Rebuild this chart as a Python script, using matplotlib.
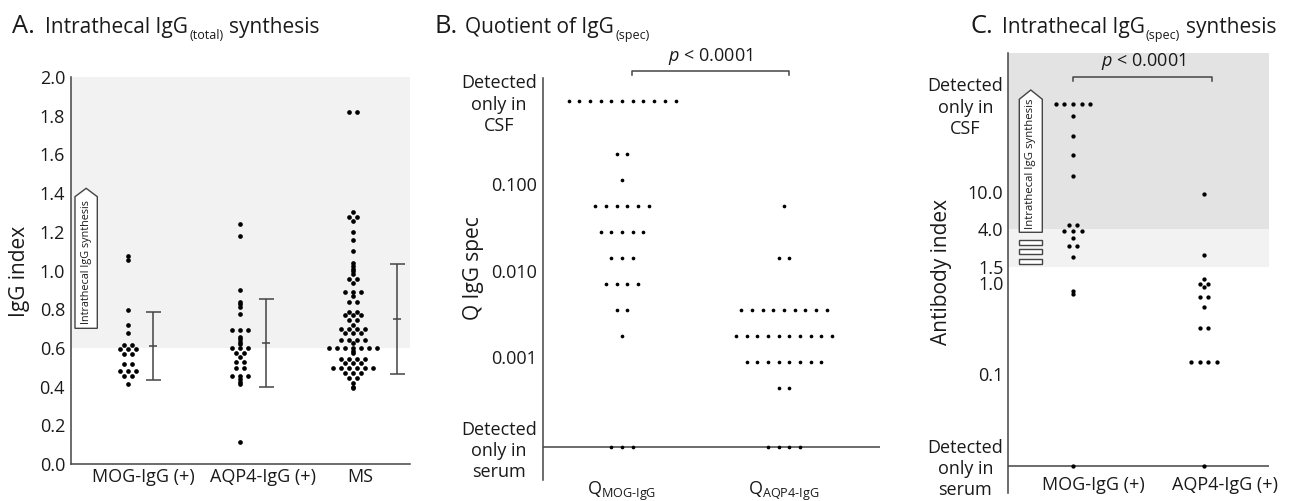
import numpy as np
import matplotlib
matplotlib.use("Agg")
import matplotlib.pyplot as plt
from matplotlib.patches import Polygon, Rectangle
from matplotlib import transforms
from matplotlib.ticker import NullLocator

plt.rcParams['font.family'] = ['Open Sans', 'DejaVu Sans']
plt.rcParams['mathtext.fontset'] = 'custom'
plt.rcParams['mathtext.rm'] = 'Open Sans'
plt.rcParams['mathtext.it'] = 'Open Sans:italic'

# ---- data ----------------------------------------------------------------
# A: IgG index per patient
groups_a = ["MOG-IgG (+)", "AQP4-IgG (+)", "MS"]
igg_mog = [1.077, 1.054, 0.796, 0.717, 0.675, 0.615, 0.615, 0.593, 0.593, 0.593,
           0.568, 0.568, 0.517, 0.517, 0.481, 0.481, 0.481, 0.456, 0.456, 0.413]
igg_aqp4 = [1.239, 1.180, 0.899, 0.839, 0.825, 0.813, 0.775, 0.692, 0.692, 0.692,
            0.658, 0.644, 0.632, 0.619, 0.598, 0.598, 0.598, 0.572, 0.572, 0.555,
            0.529, 0.529, 0.494, 0.494, 0.456, 0.456, 0.456, 0.439, 0.425, 0.412, 0.112]
igg_ms = ([1.817, 1.817, 1.30, 1.278, 1.278, 1.256, 1.197, 1.158, 1.10,
           1.037, 1.023, 1.009, 0.996, 0.982, 0.955, 0.955, 0.937,
           0.891, 0.891, 0.891, 0.87, 0.839, 0.839, 0.787, 0.787,
           0.770, 0.770, 0.770, 0.744, 0.744, 0.718]
          + [0.696] * 4 + [0.679] * 3 + [0.641] * 4 + [0.624]
          + [0.598] * 7 + [0.585, 0.572] + [0.541] * 4 + [0.520] * 3
          + [0.494] * 6 + [0.472] * 3 + [0.443] * 2 + [0.417, 0.40, 0.391])
igg_mean = [0.61, 0.625, 0.748]
igg_sd = [0.177, 0.227, 0.284]

# B: quotient of specific IgG (two-fold dilution levels) and counts per level
q_groups = [r"Q$_{\mathrm{MOG}\text{-}\mathrm{IgG}}$", r"Q$_{\mathrm{AQP4}\text{-}\mathrm{IgG}}$"]
q_levels = ["CSF", 0.224, 0.112, 0.056, 0.028, 0.014, 0.007, 0.0035, 0.00175,
            0.000875, 0.00044, "serum"]
q_mog_counts = [11, 2, 1, 6, 5, 3, 4, 2, 1, 0, 0, 3]
q_aqp4_counts = [0, 0, 0, 1, 0, 2, 0, 9, 10, 8, 2, 4]
q_ticks = ["CSF", 0.1, 0.01, 0.001, "serum"]
q_ticklabels = ["Detected\nonly in\nCSF", "0.100", "0.010", "0.001", "Detected\nonly in\nserum"]

# C: antibody index
ai_groups = ["MOG-IgG (+)", "AQP4-IgG (+)"]
ai_mog = ["CSF"] * 5 + [69.9, 42.4, 26.1, 15.1, 4.34, 4.34, 3.76, 3.76, 3.76, 3.15,
                        2.59, 2.59, 1.96, 0.818, 0.752, "serum"]
ai_aqp4 = [9.55, 2.04, 1.11, 0.98, 0.98, 0.899, 0.70, 0.70, 0.549, 0.317, 0.317,
           0.135, 0.135, 0.135, 0.135, "serum"]
ai_ticks = ["CSF", 10.0, 4.0, 1.5, 1.0, 0.1, "serum"]
ai_ticklabels = ["Detected\nonly in\nCSF", "10.0", "4.0", "1.5", "1.0", "0.1",
                 "Detected\nonly in\nserum"]

# ---- style ---------------------------------------------------------------
W, H = 1291, 501
TXT = '#1a1a1a'
LINE = '#444444'
fig = plt.figure(figsize=(W / 100, H / 100), dpi=100)


def axes_px(left, top, right, bottom):
    return fig.add_axes([left / W, 1 - bottom / H, (right - left) / W, (bottom - top) / H])


def px_per_unit_x(ax):
    a = ax.transData.transform((0, 1))
    b = ax.transData.transform((1, 1))
    return b[0] - a[0]


def row_offsets(vals, spacing_px, ppx):
    # equal values sit side by side, centred on the group position
    off = np.zeros(len(vals))
    seen = {}
    for i, v in enumerate(vals):
        seen.setdefault(v, []).append(i)
    for idx in seen.values():
        n = len(idx)
        for k, i in enumerate(idx):
            off[i] = (k - (n - 1) / 2) * spacing_px / ppx
    return off


def clean(ax, bottom=True):
    for s in ['top', 'right']:
        ax.spines[s].set_visible(False)
    ax.spines['bottom'].set_visible(bottom)
    for s in ['left', 'bottom']:
        ax.spines[s].set_color(LINE)
        ax.spines[s].set_linewidth(1.1)
    ax.tick_params(length=0, labelsize=13, labelcolor=TXT)
    ax.tick_params(which='minor', length=0)
    ax.patch.set_visible(False)


def title(x_letter, x_text, letter, main, sub, tail=None):
    r = fig.canvas.get_renderer()
    base = 1 - 33.3 / H
    fig.text(x_letter / W, base, letter, fontsize=18.4, color=TXT, va='baseline')
    t = fig.text(x_text / W, base, main, fontsize=15, color=TXT, va='baseline')
    x = x_text + t.get_window_extent(r).width + 1.3
    s = fig.text(x / W, 1 - 38.7 / H, sub, fontsize=9, color=TXT, va='baseline')
    if tail:
        x += s.get_window_extent(r).width + 6
        fig.text(x / W, base, tail, fontsize=15, color=TXT, va='baseline')


def arrow_box(ax, x0, x1, ybot, yshoulder, ytip, ytext, size):
    xc = (x0 + x1) / 2
    ax.add_patch(Polygon([(x0, ybot), (x1, ybot), (x1, yshoulder), (xc, ytip), (x0, yshoulder)],
                         closed=True, transform=ax.transAxes, fc='white', ec=LINE,
                         lw=1.0, zorder=2, clip_on=False))
    ax.text(xc, ytext, "Intrathecal IgG synthesis", transform=ax.transAxes, rotation=90,
            ha='center', va='center', fontsize=size, color=TXT, zorder=3)


def bracket(ax, x0, x1, y, drop, label_x, label_y):
    tr = transforms.blended_transform_factory(ax.transData, ax.transAxes)
    ax.plot([x0, x0, x1, x1], [y - drop, y, y, y - drop], color=LINE, lw=1.1,
            transform=tr, clip_on=False)
    ax.text(label_x, label_y, r"$\mathit{p}$ < 0.0001", transform=tr, ha='center',
            va='bottom', fontsize=13, color=TXT)


# ---- A. IgG index --------------------------------------------------------
axA = axes_px(71, 77, 410, 464)
axA.set_xlim(-0.504, 2.507)
axA.set_ylim(0, 2.0)
axA.axhspan(0.6, 2.0, color='#f2f2f2', lw=0, zorder=0)
ppx = px_per_unit_x(axA)
for i, vals in enumerate([igg_mog, igg_aqp4, igg_ms]):
    axA.scatter(i + row_offsets(vals, 8.0, ppx), vals, s=11.4, c='k', lw=0, zorder=3)
errbar_x = [0.222, 1.231, 2.391]
axA.errorbar(errbar_x, igg_mean, yerr=igg_sd, fmt='none', ecolor=LINE,
             elinewidth=1.1, capsize=5.4, capthick=1.1, zorder=2)
axA.plot(errbar_x, igg_mean, ls='none', marker='_', ms=5.3, mew=1.1, color=LINE, zorder=2)
yt = np.round(np.arange(0, 2.01, 0.2), 1)
axA.set_yticks(yt, ["%.1f" % v for v in yt])
axA.set_xticks([0.136, 1.198, 2.062], groups_a)
clean(axA)
axA.tick_params(axis='y', pad=4.3)
axA.tick_params(axis='x', pad=3)
arrow_box(axA, 0.0118, 0.0776, 0.3506, 0.6907, 0.7124, 0.5207, 7.8)
fig.text(20 / W, 1 - 271 / H, "IgG index", rotation=90, ha='center', va='center',
         fontsize=15, color=TXT)

# ---- B. Quotient of IgG(spec) -------------------------------------------
q_pos = {"CSF": 0.918, "serum": 9.18e-5}
axB = axes_px(543.3, 77.7, 880, 480)
axB.set_yscale('log')
axB.set_ylim(3.82e-5, 1.706)
axB.set_xlim(-0.486, 1.593)
axB.axhline(q_pos["serum"], color=LINE, lw=1.1, zorder=1)
ppx = px_per_unit_x(axB)
for i, counts in enumerate([q_mog_counts, q_aqp4_counts]):
    vals = [q_pos.get(lv, lv) for lv, n in zip(q_levels, counts) for _ in range(n)]
    axB.scatter(i + row_offsets(vals, 10.7, ppx), vals, s=7, c='k', lw=0, zorder=3)
axB.yaxis.set_minor_locator(NullLocator())
axB.set_yticks([q_pos.get(t, t) for t in q_ticks], q_ticklabels)
axB.set_xticks([0, 1], q_groups)
clean(axB, bottom=False)
axB.tick_params(axis='y', pad=4.5)
axB.tick_params(axis='x', pad=0)
for lab in axB.get_yticklabels():
    lab.set_multialignment('center')
    lab.set_linespacing(1.22)
bracket(axB, 0.062, 1.03, 1.0174, 0.0114, 0.546, 1.026)
fig.text(474 / W, 1 - 268 / H, "Q IgG spec", rotation=90, ha='center', va='center',
         fontsize=15, color=TXT)

# ---- C. Antibody index ---------------------------------------------------
ai_pos = {"CSF": 94.8, "serum": 0.00966}
axC = axes_px(1008.3, 53.3, 1269.3, 493.3)
axC.set_yscale('log')
axC.axhspan(4.0, 1e3, color='#e3e3e3', lw=0, zorder=0)
axC.axhspan(1.5, 4.0, color='#f2f2f2', lw=0, zorder=0)
axC.set_ylim(0.00478, 344)
axC.set_xlim(-0.494, 1.498)
axC.axhline(ai_pos["serum"], color=LINE, lw=1.1, zorder=1)
ppx = px_per_unit_x(axC)
for i, raw in enumerate([ai_mog, ai_aqp4]):
    vals = [ai_pos.get(v, v) if isinstance(v, str) else v for v in raw]
    axC.scatter(i + row_offsets(vals, 8.7, ppx), vals, s=9.6, c='k', lw=0, zorder=3)
axC.yaxis.set_minor_locator(NullLocator())
axC.set_yticks([ai_pos.get(t, t) if isinstance(t, str) else t for t in ai_ticks], ai_ticklabels)
axC.set_xticks([0.157, 1.162], ai_groups)
clean(axC, bottom=False)
axC.tick_params(axis='y', pad=3.6)
axC.tick_params(axis='x', pad=-12.5)
for lab in axC.get_yticklabels():
    lab.set_multialignment('center')
    lab.set_linespacing(1.22)
arrow_box(axC, 0.0421, 0.1303, 0.5932, 0.8955, 0.9166, 0.748, 8.2)
for yc in [0.5695, 0.549, 0.5264]:
    axC.add_patch(Rectangle((0.0421, yc - 0.00625), 0.0882, 0.0125, transform=axC.transAxes,
                            fc='white', ec=LINE, lw=1.0, zorder=2))
bracket(axC, 0.0, 1.06, 0.947, 0.01, 0.537, 0.958)
fig.text(942 / W, 1 - 272 / H, "Antibody index", rotation=90, ha='center', va='center',
         fontsize=15, color=TXT)

# ---- titles --------------------------------------------------------------
title(11.7, 45, "A.", "Intrathecal IgG", "(total)", "synthesis")
title(435, 465, "B.", "Quotient of IgG", "(spec)")
title(970, 1001.7, "C.", "Intrathecal IgG", "(spec)", "synthesis")

fig.savefig("out.png", dpi=100)
